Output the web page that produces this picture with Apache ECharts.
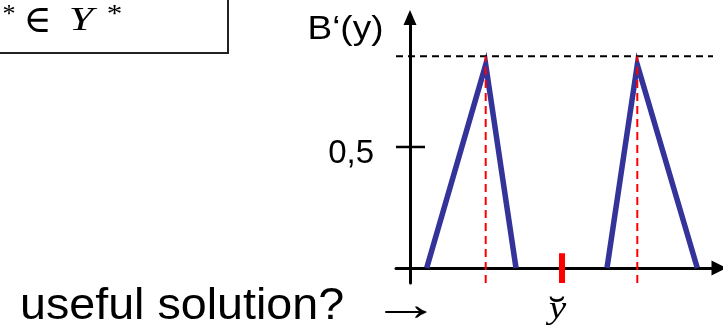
<!DOCTYPE html>
<html><head><meta charset="utf-8">
<script src="https://cdn.jsdelivr.net/npm/echarts@6/dist/echarts.min.js"></script>
<style>html,body{margin:0;padding:0;background:#fff}#c{width:723px;height:330px}</style>
</head><body><div id="c"></div>
<script>
// ---- data ----
const xRange = [-1.4, 30.9];
const yRange = [-0.062, 1.035];
const tri1X = [1.67, 7.57, 10.6];
const tri2X = [19.7, 22.73, 28.73];
const triY = [0, 0.84, 0];
const levelY = 0.875;
const levelSpan = [-1.4, 30.3];
const peakX = [7.57, 22.73];
const markerX = 15.2;
const markerY = [-0.062, 0.061];
const yTickValues = [0.5];
const yTickLabels = ['0,5'];
const yTickSpan = [-1.4, 1.5];
const markerLabel = 'y';
const markerAccent = '\u02D8';
const yTitle = 'B\u2018(y)';
const bottomText = 'useful solution?';
const arrowText = '\u2192';
const boxParts = ['*', '\u2208', 'Y', '*'];

const zip = (xs, ys) => xs.map((x, i) => [x, ys[i]]);
const blue = '#333399';

const chart = echarts.init(document.getElementById('c'), null, {renderer: 'canvas'});
const series = [
  {type: 'line', data: zip(tri1X, triY), symbol: 'none', z: 2,
   lineStyle: {color: blue, width: 5.5, join: 'miter', cap: 'butt'}},
  {type: 'line', data: zip(tri2X, triY), symbol: 'none', z: 2,
   lineStyle: {color: blue, width: 5.5, join: 'miter', cap: 'butt'}},
  {type: 'line', data: [[levelSpan[0], levelY], [levelSpan[1], levelY]], symbol: 'none', z: 3,
   lineStyle: {color: '#000', width: 2, type: [7, 5]}},
  {type: 'line', data: [[yTickSpan[0], yTickValues[0]], [yTickSpan[1], yTickValues[0]]], symbol: 'none', z: 3,
   lineStyle: {color: '#000', width: 2.5}},
  ...peakX.map(x => ({type: 'line', data: [[x, yRange[0]], [x, levelY]], symbol: 'none', z: 4,
   lineStyle: {color: '#ff0000', width: 2, type: [8, 5]}})),
  {type: 'line', data: [[markerX, markerY[0]], [markerX, markerY[1]]], symbol: 'none', z: 5,
   lineStyle: {color: '#ff0000', width: 6, cap: 'butt'}}
];
series.forEach(s => { s.animation = false; s.silent = true; s.clip = false; });

const serif = '"Liberation Serif", "DejaVu Serif", serif';
const sans = '"Liberation Sans", Arial, sans-serif';

chart.setOption({
  animation: false,
  backgroundColor: '#fff',
  grid: {left: 396, right: 4, top: 17.5, bottom: 47, containLabel: false, outerBoundsMode: 'none'},
  xAxis: {
    type: 'value', min: xRange[0], max: xRange[1],
    splitLine: {show: false},
    axisTick: {show: false},
    axisLabel: {show: false},
    axisLine: {show: true, onZero: true, symbol: ['none', 'triangle'], symbolSize: [15, 15],
      lineStyle: {color: '#000', width: 3}}
  },
  yAxis: {
    type: 'value', min: yRange[0], max: yRange[1],
    splitLine: {show: false},
    axisTick: {show: false},
    axisLine: {show: true, onZero: true, symbol: ['none', 'triangle'], symbolSize: [13, 15],
      lineStyle: {color: '#000', width: 3}},
    axisLabel: {show: true, customValues: yTickValues,
      formatter: v => yTickLabels[yTickValues.indexOf(v)] || '',
      color: '#000', fontFamily: sans, fontSize: 33, margin: 22,
      verticalAlign: 'top', lineHeight: 14}
  },
  graphic: [
    {type: 'rect', shape: {x: -10, y: -10, width: 238, height: 63},
     style: {fill: 'none', stroke: '#222', lineWidth: 2}},
    {type: 'text', x: 9, y: 15, style: {text: boxParts[0], font: '26px ' + serif, fill: '#000', align: 'center', verticalAlign: 'middle'}},
    {type: 'text', x: 37.5, y: 22, style: {text: boxParts[1], font: '38px ' + serif, fill: '#000', align: 'center', verticalAlign: 'middle'}},
    {type: 'text', x: 81, y: 21.5, scaleX: 1.3, style: {text: boxParts[2], font: 'italic 34px ' + serif, fill: '#000', align: 'center', verticalAlign: 'middle'}},
    {type: 'text', x: 114.5, y: 15, scaleX: 1.2, style: {text: boxParts[3], font: '26px ' + serif, fill: '#000', align: 'center', verticalAlign: 'middle'}},
    {type: 'text', x: 307.5, y: 30.3, scaleX: 1.12, style: {text: yTitle, font: '33px ' + sans, fill: '#000', align: 'left', verticalAlign: 'middle'}},
    {type: 'text', x: 20, y: 306.5, scaleX: 1.06, style: {text: bottomText, font: '44px ' + sans, fill: '#000', align: 'left', verticalAlign: 'middle'}},
    {type: 'text', x: 405.8, y: 307.7, scaleX: 1.45, style: {text: arrowText, font: '48px ' + serif, fill: '#000', align: 'center', verticalAlign: 'middle'}},
    {type: 'text', x: 557.5, y: 309.5, scaleX: 1.25, style: {text: markerLabel, font: 'italic 31px ' + serif, fill: '#000', align: 'center', verticalAlign: 'middle'}},
    {type: 'text', x: 557, y: 313, scaleX: 1.3, style: {text: markerAccent, font: '40px ' + serif, fill: '#000', align: 'center', verticalAlign: 'middle'}}
  ],
  series: series
});
</script>
</body></html>
